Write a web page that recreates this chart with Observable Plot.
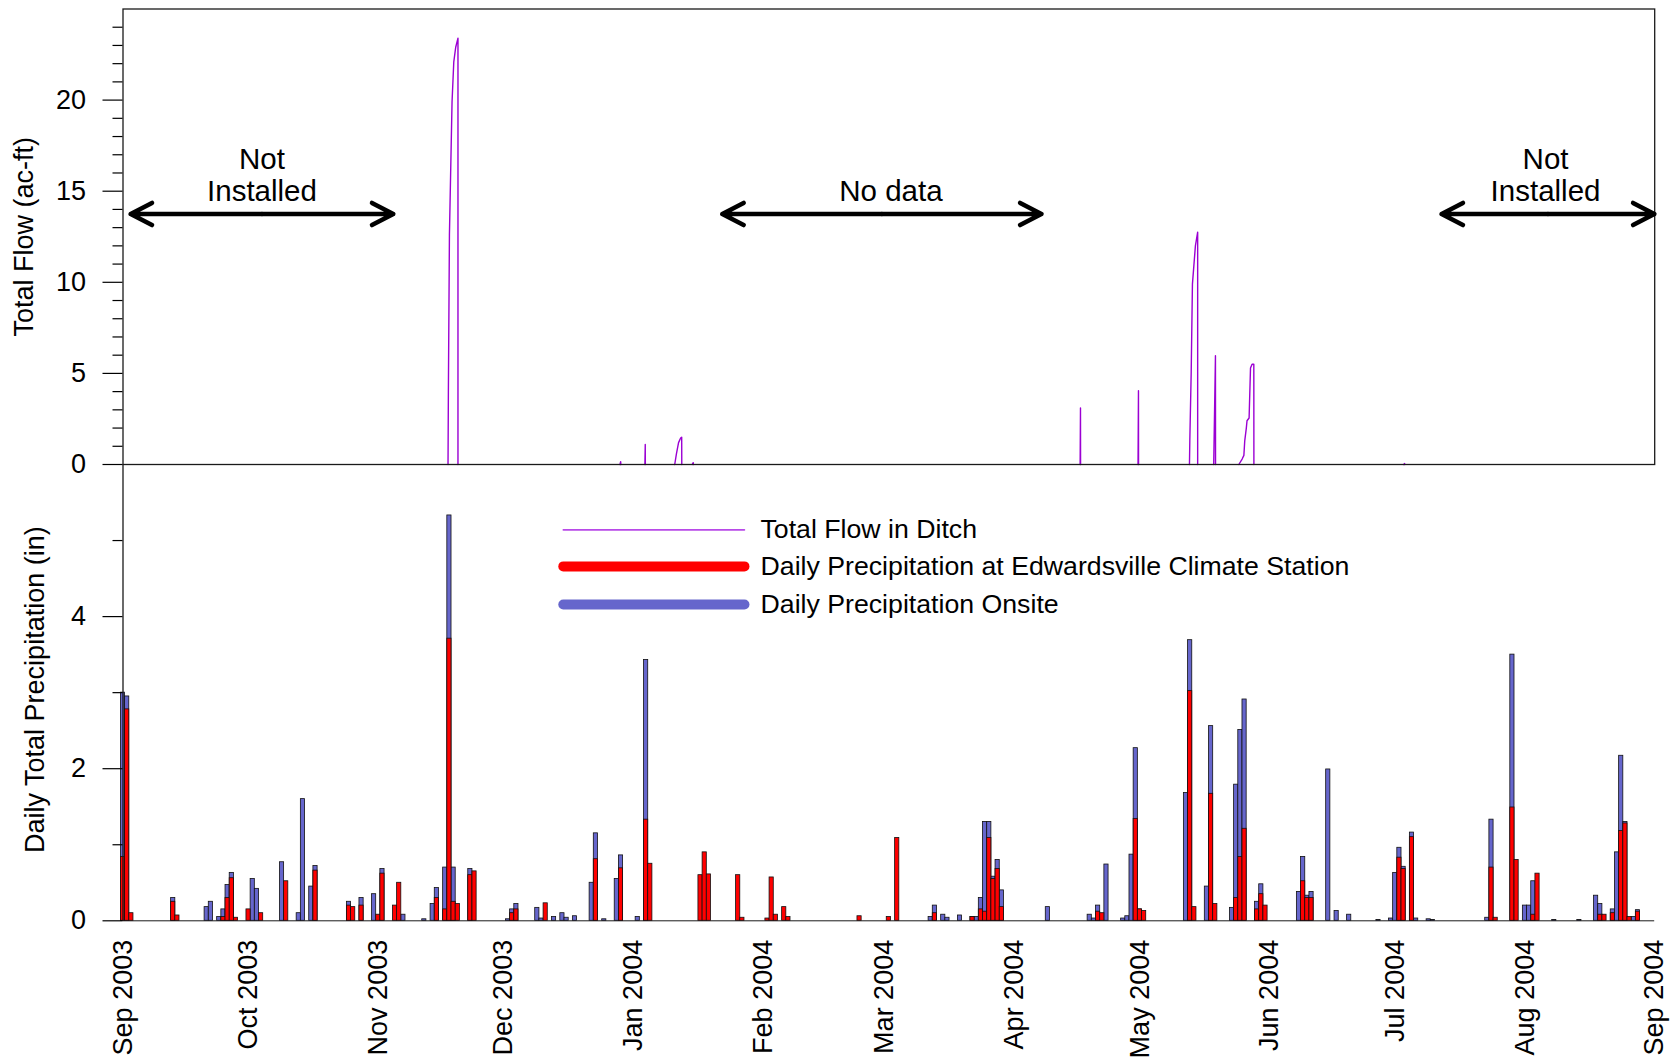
<!DOCTYPE html>
<html><head><meta charset="utf-8">
<script src="https://cdn.jsdelivr.net/npm/d3@7"></script>
<script src="https://cdn.jsdelivr.net/npm/@observablehq/plot@0.6"></script>
<style>
html,body{margin:0;padding:0;background:#fff;}
#chart svg{display:block;}
</style></head><body><div id="chart"></div>
<script>
// ---------- DATA ----------
const precipDates = [
"2003-09-01","2003-09-02","2003-09-03","2003-09-13","2003-09-14","2003-09-21","2003-09-22","2003-09-24","2003-09-25","2003-09-26",
"2003-09-27","2003-09-28","2003-10-01","2003-10-02","2003-10-03","2003-10-04","2003-10-09","2003-10-10","2003-10-13","2003-10-14",
"2003-10-16","2003-10-17","2003-10-25","2003-10-26","2003-10-28","2003-10-31","2003-11-01","2003-11-02","2003-11-05","2003-11-06",
"2003-11-07","2003-11-12","2003-11-14","2003-11-15","2003-11-17","2003-11-18","2003-11-19","2003-11-20","2003-11-23","2003-11-24",
"2003-12-02","2003-12-03","2003-12-04","2003-12-09","2003-12-10","2003-12-11","2003-12-13","2003-12-15","2003-12-16","2003-12-18",
"2003-12-22","2003-12-23","2003-12-25","2003-12-28","2003-12-29","2004-01-02","2004-01-04","2004-01-05","2004-01-17","2004-01-18",
"2004-01-19","2004-01-26","2004-01-27","2004-02-02","2004-02-03","2004-02-04","2004-02-06","2004-02-07","2004-02-24","2004-03-02",
"2004-03-04","2004-03-12","2004-03-13","2004-03-15","2004-03-16","2004-03-19","2004-03-22","2004-03-23","2004-03-24","2004-03-25",
"2004-03-26","2004-03-27","2004-03-28","2004-03-29","2004-04-09","2004-04-19","2004-04-20","2004-04-21","2004-04-22","2004-04-23",
"2004-04-27","2004-04-28","2004-04-29","2004-04-30","2004-05-01","2004-05-02","2004-05-12","2004-05-13","2004-05-14","2004-05-17",
"2004-05-18","2004-05-19","2004-05-23","2004-05-24","2004-05-25","2004-05-26","2004-05-29","2004-05-30","2004-05-31","2004-06-08",
"2004-06-09","2004-06-10","2004-06-11","2004-06-15","2004-06-17","2004-06-20","2004-06-27","2004-06-30","2004-07-01","2004-07-02",
"2004-07-03","2004-07-05","2004-07-06","2004-07-09","2004-07-10","2004-07-23","2004-07-24","2004-07-25","2004-07-29","2004-07-30",
"2004-08-01","2004-08-02","2004-08-03","2004-08-04","2004-08-08","2004-08-14","2004-08-18","2004-08-19","2004-08-20","2004-08-22",
"2004-08-23","2004-08-24","2004-08-25","2004-08-26","2004-08-27","2004-08-28"
];
const onsitePrecip = [
3.00,2.95,0,0.30,0,0.18,0.25,0.05,0.15,0.47,
0.63,0,0,0.55,0.42,0,0.77,0,0.10,1.60,
0.45,0.72,0.25,0,0.30,0.35,0,0.68,0,0,
0.08,0.02,0.22,0.43,0.70,5.33,0.70,0,0.68,0,
0.02,0.15,0.22,0.17,0.03,0,0.05,0.10,0.04,0.06,
0.50,1.15,0.02,0.55,0.86,0.05,3.43,0,0,0,
0,0,0,0,0,0,0,0,0,0,
0,0.05,0.20,0.08,0.04,0.07,0.05,0.05,0.30,1.30,
1.30,0.58,0.80,0.40,0.18,0.08,0.03,0.20,0,0.74,
0.03,0.06,0.87,2.27,0.15,0,1.68,3.69,0,0.45,
2.56,0,0.17,1.79,2.51,2.91,0.25,0.48,0,0.38,
0.84,0.33,0.38,1.99,0.13,0.08,0.01,0.03,0.63,0.96,
0.71,1.16,0.03,0.02,0.01,0.04,1.33,0,3.50,0,
0.20,0.20,0.52,0,0.01,0.01,0.33,0.22,0,0.15,
0.90,2.17,1.30,0,0.05,0.14
];
const stationPrecip = [
0.84,2.78,0.10,0.25,0.07,0,0,0,0.05,0.30,
0.56,0.04,0.15,0,0,0.10,0,0.52,0,0,
0,0.66,0.20,0.18,0.20,0,0.08,0.62,0.20,0.50,
0,0,0,0.30,0.15,3.71,0.25,0.22,0.60,0.65,
0,0.10,0.15,0,0,0.23,0,0,0,0,
0,0.81,0,0,0.69,0,1.33,0.75,0.60,0.90,
0.61,0.60,0.04,0.03,0.57,0.08,0.18,0.05,0.06,0.05,
1.09,0,0.10,0,0,0,0.05,0,0.15,0.12,
1.09,0.55,0.68,0.18,0,0,0,0.12,0.10,0,
0,0,0,1.34,0.15,0.13,0,3.02,0.18,0,
1.67,0.22,0,0.30,0.84,1.21,0.15,0.35,0.20,0,
0.52,0.30,0.30,0,0,0,0,0,0,0.83,
0.68,1.10,0,0,0,0,0.70,0.04,1.49,0.80,
0,0,0.08,0.62,0,0,0,0.08,0.08,0.10,
0,1.18,1.28,0.05,0,0.12
];

// Flow in ditch, one event per id (flow is zero between events)
const flowEvent = [
1,1,1,1,1,1,1,1,
2,2,2,
3,3,3,
4,4,4,4,4,4,
5,5,5,
6,6,6,
7,7,7,
8,8,8,8,8,8,8,
9,9,9,
10,10,10,10,10,10,10,10,10,10,10,
11,11,11
];
const flowTimes = [
"2003-11-17T16:00Z","2003-11-17T18:00Z","2003-11-18T00:00Z","2003-11-18T15:00Z","2003-11-19T01:00Z","2003-11-19T12:00Z","2003-11-20T01:00Z","2003-11-20T01:00Z",
"2003-12-28T18:00Z","2003-12-28T22:00Z","2003-12-28T23:00Z",
"2004-01-03T17:00Z","2004-01-03T19:00Z","2004-01-03T19:30Z",
"2004-01-10T20:00Z","2004-01-11T06:00Z","2004-01-11T18:00Z","2004-01-12T06:00Z","2004-01-12T12:00Z","2004-01-12T12:30Z",
"2004-01-15T00:00Z","2004-01-15T06:00Z","2004-01-15T07:00Z",
"2004-04-16T17:00Z","2004-04-16T19:00Z","2004-04-16T19:30Z",
"2004-04-30T13:00Z","2004-04-30T15:30Z","2004-04-30T16:00Z",
"2004-05-12T20:00Z","2004-05-12T22:00Z","2004-05-13T06:00Z","2004-05-13T13:00Z","2004-05-14T06:00Z","2004-05-14T19:00Z","2004-05-14T19:00Z",
"2004-05-18T15:00Z","2004-05-19T01:00Z","2004-05-19T01:30Z",
"2004-05-24T15:00Z","2004-05-25T10:00Z","2004-05-25T20:00Z","2004-05-26T01:00Z","2004-05-26T10:00Z","2004-05-26T14:00Z","2004-05-27T02:00Z","2004-05-27T10:00Z","2004-05-27T19:00Z","2004-05-28T05:00Z","2004-05-28T05:30Z",
"2004-07-03T00:00Z","2004-07-03T06:00Z","2004-07-03T07:00Z"
];
const flowValues = [
0,4,12.6,19.9,22.1,22.9,23.4,0,
0,0.15,0,
0,1.1,0,
0,0.6,1.2,1.45,1.5,0,
0,0.1,0,
0,3.1,0,
0,4.05,0,
0,1.3,5.1,9.9,12.0,12.75,0,
0,5.97,0,
0,0.3,0.5,1.3,2.0,2.4,2.55,5.3,5.5,5.5,0,
0,0.05,0
];

const monthTicks = ["2003-09-01","2003-10-01","2003-11-01","2003-12-01","2004-01-01","2004-02-01","2004-03-01",
  "2004-04-01","2004-05-01","2004-06-01","2004-07-01","2004-08-01","2004-09-01"];
const flowTicks = [0,5,10,15,20];
const flowMinorTicks = [1,2,3,4,6,7,8,9,11,12,13,14,16,17,18,19,21,22,23,24];
const precipTicks = [0,2,4];
const precipMinorTicks = [1,3,5];

const arrowSpans = [
  {from:"2003-09-02T20:00Z", to:"2003-11-04T14:00Z", y:13.75},
  {from:"2004-01-22T05:00Z", to:"2004-04-07T11:00Z", y:13.75},
  {from:"2004-07-12T02:00Z", to:"2004-08-31T22:00Z", y:13.75}
];
const notes = [
  {at:"2003-10-04T05:00Z", y:15.9, label:"Not\nInstalled"},
  {at:"2004-03-02T12:00Z", y:15.04, label:"No data"},
  {at:"2004-08-05T22:00Z", y:15.9, label:"Not\nInstalled"}
];
const legendItems = [
  {label:"Total Flow in Ditch", color:"#b84ae8", width:1.6, y:5.14},
  {label:"Daily Precipitation at Edwardsville Climate Station", color:"#ff0000", width:10, y:4.66},
  {label:"Daily Precipitation Onsite", color:"#6666cc", width:10, y:4.16}
];
const legendLineX = ["2003-12-15T05:00Z","2004-01-27T12:00Z"];
const legendTextX = "2004-01-31T08:00Z";

// ---------- BUILD ----------
const W = 1674;
const ML = 122.5, MR = W - 1654.2;
const xDomain = [new Date("2003-09-01T00:00Z"), new Date("2004-09-01T00:00Z")];
const font = "'Liberation Sans', Arial, Helvetica, sans-serif";
const HALF = 12 * 3600e3;
const TICK_FS = 27, TITLE_FS = 27, NOTE_FS = 29.5, LEG_FS = 26.7;

const precip = precipDates.map((d, i) => ({date: new Date(d + "T00:00Z"), onsite: onsitePrecip[i], station: stationPrecip[i]}));
const flow = flowTimes.map((t, i) => ({time: new Date(t), value: flowValues[i], event: flowEvent[i]}));
const arrows = arrowSpans.map(a => {
  const f = new Date(a.from), t = new Date(a.to);
  return {f, t, m: new Date((+f + +t) / 2), y: a.y};
});
const notesD = notes.map(n => ({...n, x: new Date(n.at)}));
const legendD = legendItems.map(d => ({...d, x1: new Date(legendLineX[0]), x2: new Date(legendLineX[1]), tx: new Date(legendTextX)}));

const style = {fontFamily: font, fontSize: "27px", color: "#000", background: "#fff", overflow: "visible"};
const arrowOpts = {stroke: "#000", strokeWidth: 4.5, headLength: 8, headAngle: 55, strokeLinecap: "round", strokeLinejoin: "round"};

const topPlot = Plot.plot({
  width: W, height: 464, marginTop: 8.5, marginBottom: 0, marginLeft: ML, marginRight: MR,
  style,
  x: {type: "utc", domain: xDomain, axis: null},
  y: {domain: [0, 25]},
  marks: [
    Plot.line(flow, {x: "time", y: "value", z: "event", stroke: "#9b00d3", strokeWidth: 1.4}),
    Plot.frame({stroke: "#1a1a1a", strokeWidth: 1.3}),
    Plot.axisY(flowMinorTicks, {tickSize: 10, tickFormat: () => "", label: null, strokeWidth: 1.2}),
    Plot.axisY(flowTicks, {tickSize: 20, tickPadding: 17, tickFormat: d => String(d), fontSize: TICK_FS, label: null, strokeWidth: 1.2}),
    Plot.text(["Total Flow (ac-ft)"], {text: d => d, frameAnchor: "left", textAnchor: "middle", lineAnchor: "middle", dx: -99, rotate: -90, fontSize: TITLE_FS}),
    Plot.arrow(arrows, {x1: "m", x2: "f", y1: "y", y2: "y", ...arrowOpts}),
    Plot.arrow(arrows, {x1: "m", x2: "t", y1: "y", y2: "y", ...arrowOpts}),
    Plot.text(notesD, {x: "x", y: "y", text: "label", fontSize: NOTE_FS, lineHeight: 1.1, fill: "#000"})
  ]
});

const bottomPlot = Plot.plot({
  width: W, height: 593, marginTop: 0, marginBottom: 136.7, marginLeft: ML, marginRight: MR,
  style,
  x: {type: "utc", domain: xDomain, axis: null},
  y: {domain: [0, 6], axis: null},
  marks: [
    Plot.ruleY([0], {stroke: "#1a1a1a", strokeWidth: 1}),
    Plot.rect(precip.filter(d => d.onsite > 0), {
      x1: d => new Date(+d.date - HALF), x2: d => new Date(+d.date + HALF),
      y1: () => 0, y2: "onsite", fill: "#6666cc", stroke: "#111", strokeWidth: 0.8
    }),
    Plot.rect(precip.filter(d => d.station > 0), {
      x1: d => new Date(+d.date - HALF), x2: d => new Date(+d.date + HALF),
      y1: () => 0, y2: "station", fill: "#ff0000", stroke: "#111", strokeWidth: 0.8
    }),
    Plot.ruleX([xDomain[0]], {stroke: "#1a1a1a", strokeWidth: 1.3}),
    Plot.axisY(precipMinorTicks, {tickSize: 10, tickFormat: () => "", label: null, strokeWidth: 1.2}),
    Plot.axisY(precipTicks, {tickSize: 20, tickPadding: 17, tickFormat: d => String(d), fontSize: TICK_FS, label: null, strokeWidth: 1.2}),
    Plot.axisX(monthTicks.map(d => new Date(d + "T00:00Z")), {tickSize: 0, tickPadding: 19, tickRotate: -90, tickFormat: d3.utcFormat("%b %Y"), fontSize: TICK_FS, label: null}),
    Plot.text(["Daily Total Precipitation (in)"], {text: d => d, frameAnchor: "left", textAnchor: "middle", lineAnchor: "middle", dx: -88, dy: -3, rotate: -90, fontSize: TITLE_FS}),
    Plot.link(legendD, {x1: "x1", x2: "x2", y1: "y", y2: "y", stroke: "color", strokeWidth: "width", strokeLinecap: "round"}),
    Plot.text(legendD, {x: "tx", y: "y", text: "label", textAnchor: "start", fontSize: LEG_FS, fill: "#000"})
  ]
});

const chart = document.getElementById("chart");
chart.appendChild(topPlot);
chart.appendChild(bottomPlot);
</script>
</body></html>
